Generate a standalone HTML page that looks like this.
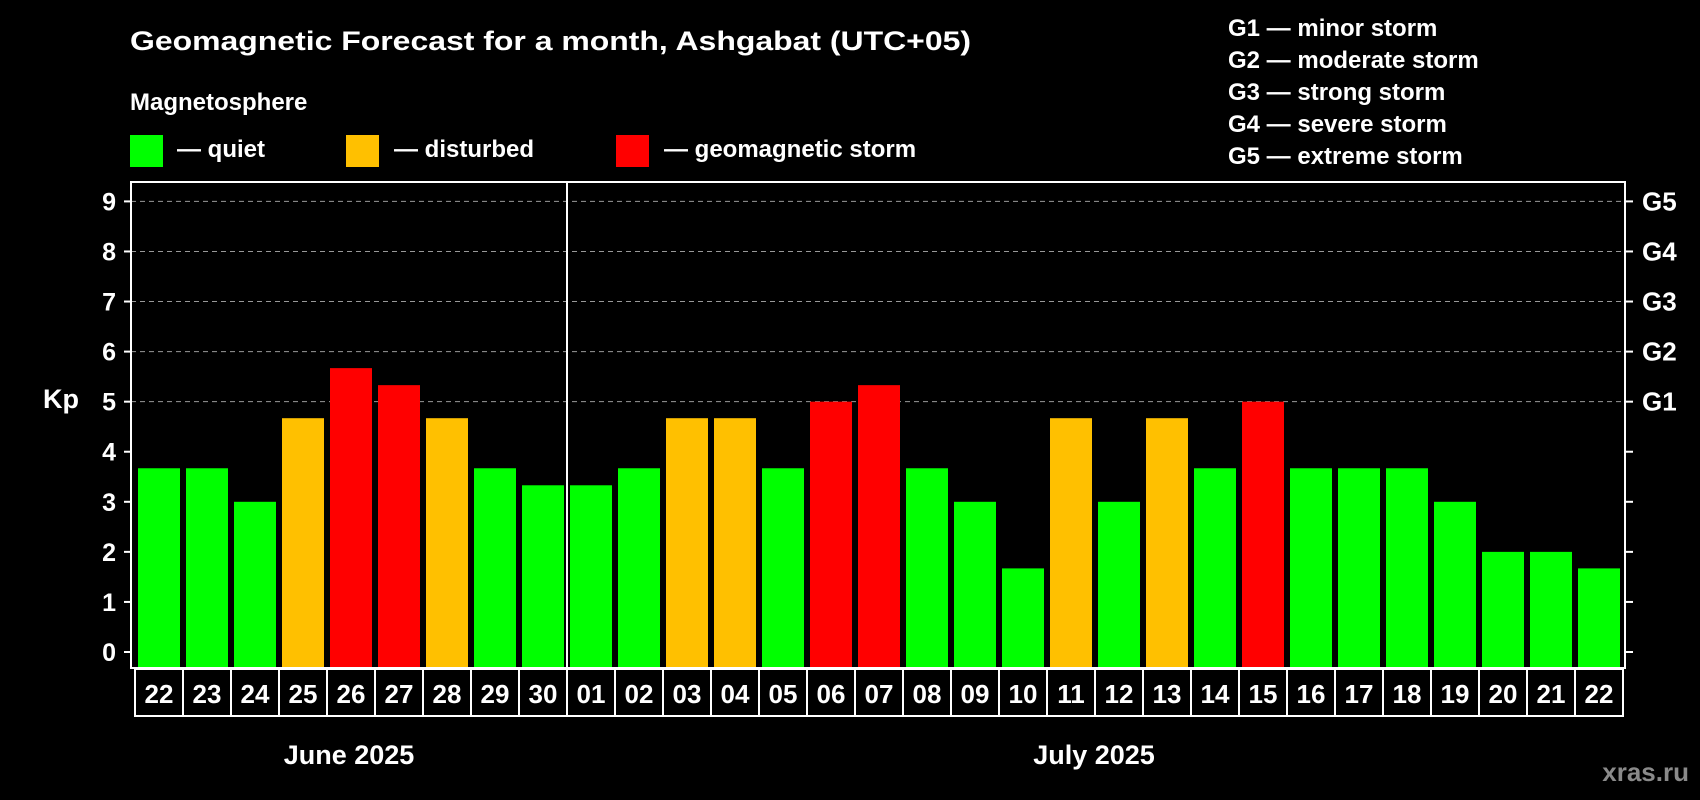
<!DOCTYPE html>
<html><head><meta charset="utf-8"><style>
body{margin:0;background:#000;}
svg{display:block;font-family:"Liberation Sans",Arial,sans-serif;font-weight:bold;}
</style></head><body>
<svg id="chart" width="1700" height="800" viewBox="0 0 1700 800" xmlns="http://www.w3.org/2000/svg">
<rect width="1700" height="800" fill="#000"/>
<text x="130" y="50" fill="#fff" font-size="27" textLength="841" lengthAdjust="spacingAndGlyphs">Geomagnetic Forecast for a month, Ashgabat (UTC+05)</text>
<text x="130" y="110" fill="#fff" font-size="24">Magnetosphere</text>
<g>
<rect x="130" y="135" width="33" height="32" fill="#00ff00"/>
<text x="177" y="157" fill="#fff" font-size="24">— quiet</text></g>
<g>
<rect x="346" y="135" width="33" height="32" fill="#ffc000"/>
<text x="394" y="157" fill="#fff" font-size="24">— disturbed</text></g>
<g>
<rect x="616" y="135" width="33" height="32" fill="#ff0000"/>
<text x="664" y="157" fill="#fff" font-size="24">— geomagnetic storm</text></g>
<g fill="#fff" font-size="24">
<text x="1228" y="36">G1 — minor storm</text>
<text x="1228" y="68">G2 — moderate storm</text>
<text x="1228" y="100">G3 — strong storm</text>
<text x="1228" y="132">G4 — severe storm</text>
<text x="1228" y="164">G5 — extreme storm</text>
</g>
<text x="43" y="408" fill="#fff" font-size="27">Kp</text>
<g id="grid"></g><g id="bars"></g><g id="axes"></g>
<text x="349" y="764" fill="#fff" font-size="27" text-anchor="middle">June 2025</text>
<text x="1094" y="764" fill="#fff" font-size="27" text-anchor="middle">July 2025</text>
<text x="1689" y="781" fill="#8a8a8a" font-size="26" text-anchor="end">xras.ru</text>
</svg>
<script>
const days = ["22","23","24","25","26","27","28","29","30","01","02","03","04","05","06","07","08","09","10","11","12","13","14","15","16","17","18","19","20","21","22"];
const kpValues = [3.67,3.67,3,4.67,5.67,5.33,4.67,3.67,3.33,3.33,3.67,4.67,4.67,3.67,5,5.33,3.67,3,1.67,4.67,3,4.67,3.67,5,3.67,3.67,3.67,3,2,2,1.67];
const levels = ["quiet","quiet","quiet","disturbed","storm","storm","disturbed","quiet","quiet","quiet","quiet","disturbed","disturbed","quiet","storm","storm","quiet","quiet","quiet","disturbed","quiet","disturbed","quiet","storm","quiet","quiet","quiet","quiet","quiet","quiet","quiet"];
const yTicks = [0,1,2,3,4,5,6,7,8,9];
const gLabels = ["G1","G2","G3","G4","G5"];
const monthBreak = 9;

const NS="http://www.w3.org/2000/svg";
const L=131,R=1625,T=182,B=668,Y0=652,Y9=201.4;
const colors={quiet:"#00ff00",disturbed:"#ffc000",storm:"#ff0000"};
const y=v=>Y0-(Y0-Y9)*v/9;
const slot=48,x0=135;
const x=i=>x0+i*slot;
function mk(tag,attrs,parent){const e=document.createElementNS(NS,tag);for(const k in attrs)e.setAttribute(k,attrs[k]);parent.appendChild(e);return e;}
const grid=document.getElementById("grid"),bars=document.getElementById("bars"),axes=document.getElementById("axes");
yTicks.forEach(v=>{
  if(v>=5){const g=mk("line",{x1:L,x2:R,y1:y(v),y2:y(v),stroke:"#999","stroke-dasharray":"5,4","stroke-width":1},grid);
  
  }
  mk("line",{x1:L-7,x2:L,y1:y(v),y2:y(v),stroke:"#fff","stroke-width":2},axes);
  mk("line",{x1:R,x2:R+8,y1:y(v),y2:y(v),stroke:"#fff","stroke-width":2},axes);
  const t=mk("text",{x:116,y:y(v)+9,fill:"#fff","font-size":25,"text-anchor":"end"},axes);t.textContent=v;
  
  
});
gLabels.forEach((g,i)=>{const t=mk("text",{x:1642,y:y(5+i)+9,fill:"#fff","font-size":26},axes);t.textContent=g;
  
  });
kpValues.forEach((v,i)=>{
  const r=mk("rect",{x:x(i)+3,y:y(v),width:42,height:B-y(v),fill:colors[levels[i]]},bars);
  
  
  const bx=mk("rect",{x:x(i),y:669,width:slot,height:47,fill:"none",stroke:"#fff","stroke-width":2},axes);
  
  
  const t=mk("text",{x:x(i)+slot/2,y:703,fill:"#fff","font-size":26,"text-anchor":"middle"},axes);t.textContent=days[i];
  
  
});
const fr=mk("rect",{x:L,y:T,width:R-L,height:B-T,fill:"none",stroke:"#fff","stroke-width":2},axes);


const sep=mk("line",{x1:x(monthBreak),x2:x(monthBreak),y1:T,y2:716,stroke:"#fff","stroke-width":2},axes);


</script>
</body></html>
